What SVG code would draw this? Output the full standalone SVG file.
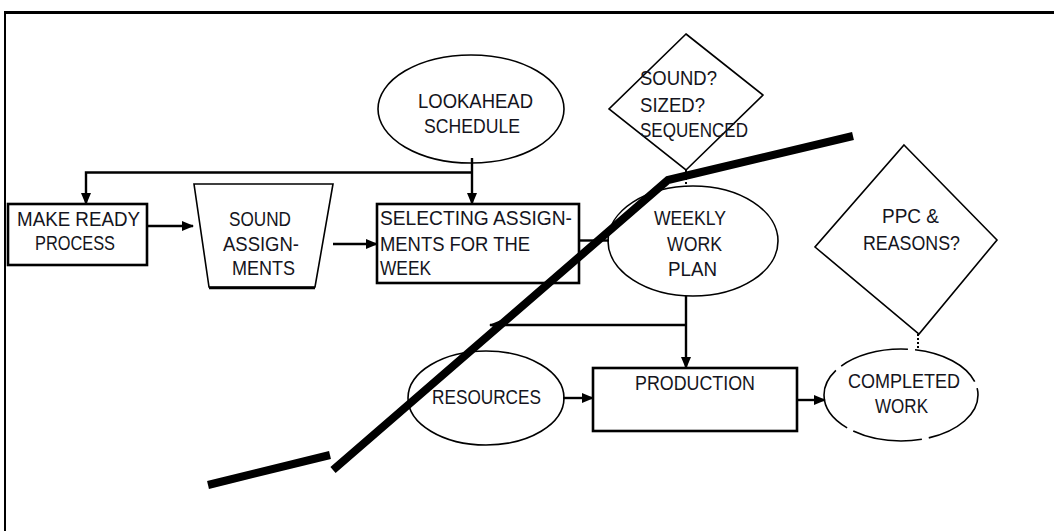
<svg xmlns="http://www.w3.org/2000/svg" width="1054" height="531" viewBox="0 0 1054 531">
  <style>
    .box { fill: #fff; stroke: #000; stroke-width: 2.6; }
    .shape { fill: #fff; stroke: #000; stroke-width: 1.6; }
    .lbl { font-family: "Liberation Sans", Arial, sans-serif; font-size: 21px; fill: #141420; }
    .conn { fill: none; stroke: #000; stroke-width: 2.4; }
    .dots { fill: none; stroke: #000; stroke-width: 2; stroke-dasharray: 2 2; }
    .cut { fill: none; stroke: #000; stroke-width: 8; stroke-linejoin: miter; }
  </style>
  <defs>
    <marker id="arrow" markerUnits="userSpaceOnUse" markerWidth="12" markerHeight="10" refX="11" refY="5" orient="auto">
      <path d="M0,0 L12,5 L0,10 Z" fill="#000"/>
    </marker>
  </defs>

  <rect width="1054" height="531" fill="#fff"/>

  <!-- frame -->
  <line x1="4" y1="12.5" x2="1054" y2="12.5" stroke="#000" stroke-width="3"/>
  <line x1="5" y1="12" x2="5" y2="531" stroke="#000" stroke-width="2"/>

  <g id="make-ready">
    <rect class="box" x="8" y="204" width="139" height="61"/>
    <text class="lbl" x="17" y="226" textLength="123" lengthAdjust="spacingAndGlyphs">MAKE READY</text>
    <text class="lbl" x="35" y="250" textLength="80" lengthAdjust="spacingAndGlyphs">PROCESS</text>
  </g>

  <g id="sound-assignments">
    <polygon class="shape" points="194,184 333,184 315,287 209,287"/>
    <line x1="209" y1="288" x2="315" y2="288" stroke="#000" stroke-width="2.4"/>
    <text class="lbl" x="229" y="226" textLength="62" lengthAdjust="spacingAndGlyphs">SOUND</text>
    <text class="lbl" x="223" y="251" textLength="76" lengthAdjust="spacingAndGlyphs">ASSIGN-</text>
    <text class="lbl" x="232" y="275" textLength="63" lengthAdjust="spacingAndGlyphs">MENTS</text>
  </g>

  <g id="lookahead">
    <ellipse class="shape" cx="471" cy="109" rx="93" ry="54"/>
    <text class="lbl" x="418" y="108" textLength="115" lengthAdjust="spacingAndGlyphs">LOOKAHEAD</text>
    <text class="lbl" x="424" y="133" textLength="96" lengthAdjust="spacingAndGlyphs">SCHEDULE</text>
  </g>

  <g id="selecting">
    <rect class="box" x="377" y="204" width="202" height="79"/>
    <text class="lbl" x="380" y="225" textLength="192" lengthAdjust="spacingAndGlyphs">SELECTING  ASSIGN-</text>
    <text class="lbl" x="380" y="251" textLength="150" lengthAdjust="spacingAndGlyphs">MENTS FOR THE</text>
    <text class="lbl" x="380" y="275" textLength="51" lengthAdjust="spacingAndGlyphs">WEEK</text>
  </g>

  <g id="check-sound">
    <polygon class="shape" points="686,34 763,95 686,170 609,109"/>
    <text class="lbl" x="640" y="85" textLength="77" lengthAdjust="spacingAndGlyphs">SOUND?</text>
    <text class="lbl" x="640" y="112" textLength="65" lengthAdjust="spacingAndGlyphs">SIZED?</text>
    <text class="lbl" x="640" y="137" textLength="108" lengthAdjust="spacingAndGlyphs">SEQUENCED</text>
  </g>

  <g id="weekly-plan">
    <ellipse class="shape" cx="693" cy="241" rx="85" ry="55"/>
    <text class="lbl" x="654" y="225" textLength="72" lengthAdjust="spacingAndGlyphs">WEEKLY</text>
    <text class="lbl" x="667" y="251" textLength="55" lengthAdjust="spacingAndGlyphs">WORK</text>
    <text class="lbl" x="668" y="276" textLength="49" lengthAdjust="spacingAndGlyphs">PLAN</text>
  </g>

  <g id="ppc">
    <polygon class="shape" points="904,145 997,240 919,334 815,247"/>
    <text class="lbl" x="882" y="223" textLength="57" lengthAdjust="spacingAndGlyphs">PPC &amp;</text>
    <text class="lbl" x="863" y="250" textLength="97" lengthAdjust="spacingAndGlyphs">REASONS?</text>
  </g>

  <g id="resources">
    <ellipse class="shape" cx="486" cy="398" rx="78" ry="47"/>
    <text class="lbl" x="432" y="404" textLength="109" lengthAdjust="spacingAndGlyphs">RESOURCES</text>
  </g>

  <g id="production">
    <rect class="box" x="593" y="368" width="204" height="63"/>
    <text class="lbl" x="635" y="390" textLength="120" lengthAdjust="spacingAndGlyphs">PRODUCTION</text>
  </g>

  <g id="completed">
    <ellipse class="shape" cx="901" cy="395" rx="77" ry="46" stroke-dasharray="70 7"/>
    <text class="lbl" x="848" y="388" textLength="112" lengthAdjust="spacingAndGlyphs">COMPLETED</text>
    <text class="lbl" x="875" y="413" textLength="53" lengthAdjust="spacingAndGlyphs">WORK</text>
  </g>

  <g id="connectors">
    <line class="conn" x1="147" y1="226" x2="193" y2="226" marker-end="url(#arrow)"/>
    <line class="conn" x1="333" y1="244" x2="377" y2="244" marker-end="url(#arrow)"/>
    <line class="conn" x1="472" y1="158" x2="472" y2="204" marker-end="url(#arrow)"/>
    <path class="conn" d="M472,172.5 H86 V204" marker-end="url(#arrow)"/>
    <line class="conn" x1="579" y1="240.5" x2="609" y2="240.5"/>
    <line class="conn" x1="686" y1="296" x2="686" y2="368" marker-end="url(#arrow)"/>
    <line class="conn" x1="686" y1="325" x2="490" y2="325" marker-end="url(#arrow)"/>
    <line class="conn" x1="563" y1="398" x2="593" y2="398" marker-end="url(#arrow)"/>
    <line class="conn" x1="797" y1="400" x2="825" y2="400" marker-end="url(#arrow)"/>
    <line class="dots" x1="686" y1="170" x2="686" y2="187"/>
    <line class="dots" x1="918" y1="334" x2="918" y2="349"/>
  </g>

  <!-- heavy commitment line -->
  <g id="cut-line">
    <polyline class="cut" points="333,470 668,180 853,136"/>
    <line class="cut" x1="208" y1="485" x2="330" y2="455"/>
  </g>
</svg>
